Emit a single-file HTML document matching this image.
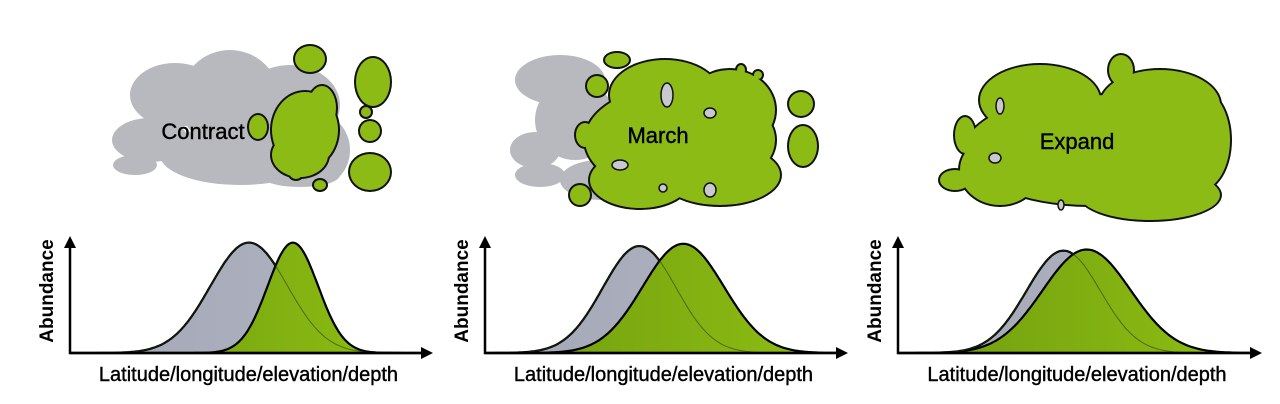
<!DOCTYPE html>
<html><head><meta charset="utf-8"><style>
html,body{margin:0;padding:0;background:#fff;width:1280px;height:404px;overflow:hidden}
svg{display:block;font-family:"Liberation Sans",sans-serif}
</style></head><body>
<svg id="fig" width="1280" height="404" viewBox="0 0 1280 404">
<defs>
<linearGradient id="gg" x1="0" x2="1"><stop offset="0" stop-color="#6f9c0e"/><stop offset="1" stop-color="#8fbf14"/></linearGradient>
<linearGradient id="gr" x1="0" x2="1"><stop offset="0" stop-color="#a3a7b6"/><stop offset="1" stop-color="#b2b6c3"/></linearGradient>
</defs>
<g id="maps"></g>
<g id="charts"></g>
</svg>
<script>
// chart data (domain 0-100 along axis, height 0-100)
const panels = ["contract","march","expand"];
const grayMeans = [51, 44, 47];
const graySds = [11, 10.5, 10.5];
const grayHeights = [96, 93, 89];
const greenMeans = [63.5, 56.5, 53.6];
const greenSds = [7.2, 11.6, 12.5];
const greenHeights = [96, 95, 90];
const xLabel = "Latitude/longitude/elevation/depth";
const yLabel = "Abundance";
const mapLabels = ["Contract","March","Expand"];

const NS="http://www.w3.org/2000/svg";
function mk(tag,attrs,parent){const e=document.createElementNS(NS,tag);for(const k in attrs)e.setAttribute(k,attrs[k]);parent.appendChild(e);return e;}
const axX0=[70,485,898], axX1=[433,848,1262], baseY=353, topY=238;
const charts=document.getElementById('charts');
panels.forEach((p,i)=>{
  const g=mk('g',{},charts);
  
  
  const w=axX1[i]-12-axX0[i];
  const xs=v=>axX0[i]+v/100*w;
  const ys=v=>baseY-v/100*(baseY-topY);
  function curve(m,s,h){let d='';for(let k=0;k<=200;k++){const v=k/2;const y=h*Math.exp(-0.5*((v-m)/s)**2);d+=(k?'L':'M')+xs(v).toFixed(1)+','+ys(y).toFixed(1);}return d;}
  const gd=curve(grayMeans[i],graySds[i],grayHeights[i]);
  const ed=curve(greenMeans[i],greenSds[i],greenHeights[i]);
  const gf=mk('path',{d:gd+'Z',fill:'url(#gr)',stroke:'#000','stroke-width':2.2},g);
  
  
  const ef=mk('path',{d:ed+'Z',fill:'url(#gg)',stroke:'#000','stroke-width':2.2},g);
  
  
  mk('path',{d:gd,fill:'none',stroke:'#2a3a10','stroke-width':1,opacity:0.6},g);
  const ax=mk('path',{d:`M${axX0[i]},${topY+6}V${baseY}H${axX1[i]-10}`,fill:'none',stroke:'#000','stroke-width':2.5},g);
  
  
  mk('path',{d:`M${axX0[i]-6},${topY+10}L${axX0[i]},${topY-2}L${axX0[i]+6},${topY+10}Z`,fill:'#000'},g);
  mk('path',{d:`M${axX1[i]-12},${baseY-6}L${axX1[i]},${baseY}L${axX1[i]-12},${baseY+6}Z`,fill:'#000'},g);
  const yl=mk('text',{x:0,y:0,transform:`translate(${axX0[i]-17},${baseY-62}) rotate(-90)`,'text-anchor':'middle','font-size':19,'font-weight':'bold'},g);
  yl.textContent=yLabel;
  
  
  const xl=mk('text',{x:(axX0[i]+axX1[i])/2-3,y:381,'text-anchor':'middle','font-size':20,'stroke':'#000','stroke-width':0.4},g);
  xl.textContent=xLabel;
  
  
});

// maps (illustration shapes)
const maps=document.getElementById('maps');
const grayBlobs=[
 [[175,95,45,32],[230,100,50,50],[290,105,50,40],[150,140,38,22],[135,165,22,10],[320,150,30,35],[240,155,80,30],[300,175,40,12]],
 [[560,80,45,25],[575,120,40,40],[535,150,25,18],[540,175,25,12],[600,180,40,20]],
 []];
const greenMain=[
 [[305,130,33,38],[300,155,28,22],[322,108,14,22]],
 [[680,140,95,55],[665,95,55,35],[730,110,45,40],[640,180,50,28],[720,175,60,30]],
 [[1090,150,125,55],[1040,100,60,35],[1160,105,60,35],[1000,170,40,35],[1150,195,70,25],[1200,140,30,50]]];
const greenSpots=[
 [[310,59,15,13],[373,82,17,24],[370,172,20,18],[258,127,9,12],[370,131,10,10],[366,112,5,5],[296,174,6,5],[320,185,6,5]],
 [[597,86,10,10],[617,60,12,7],[801,104,12,12],[803,146,14,20],[585,135,9,12],[741,70,4,5],[758,75,4,4],[580,195,10,10]],
 [[1121,70,12,15],[965,135,10,18],[955,180,15,10],[1226,128,3,4],[1222,152,3,5]]];
const holes=[[],[[667,95,6,12],[710,113,6,5],[620,165,8,5],[710,190,6,7],[663,188,4,4]],[[1000,106,4,8],[995,158,6,5],[1061,205,3,5]]];
panels.forEach((p,i)=>{
  const g=mk('g',{},maps);
  
  
  grayBlobs[i].forEach(e=>mk('ellipse',{cx:e[0],cy:e[1],rx:e[2],ry:e[3],fill:'#b8b9be'},g));
  const all=greenMain[i].concat(greenSpots[i]);
  all.forEach(e=>mk('ellipse',{cx:e[0],cy:e[1],rx:e[2]+2,ry:e[3]+2,fill:'#111'},g));
  all.forEach(e=>mk('ellipse',{cx:e[0],cy:e[1],rx:e[2],ry:e[3],fill:'#8cbb16'},g));
  holes[i].forEach(e=>mk('ellipse',{cx:e[0],cy:e[1],rx:e[2],ry:e[3],fill:'#c8c9cc',stroke:'#111','stroke-width':1.5},g));
  const pos=[[203,139],[658,143],[1077,149]][i];
  const t=mk('text',{x:pos[0],y:pos[1],'text-anchor':'middle','font-size':22,'stroke':'#000','stroke-width':0.4},g);
  t.textContent=mapLabels[i];
  
  
});
</script>
</body></html>
